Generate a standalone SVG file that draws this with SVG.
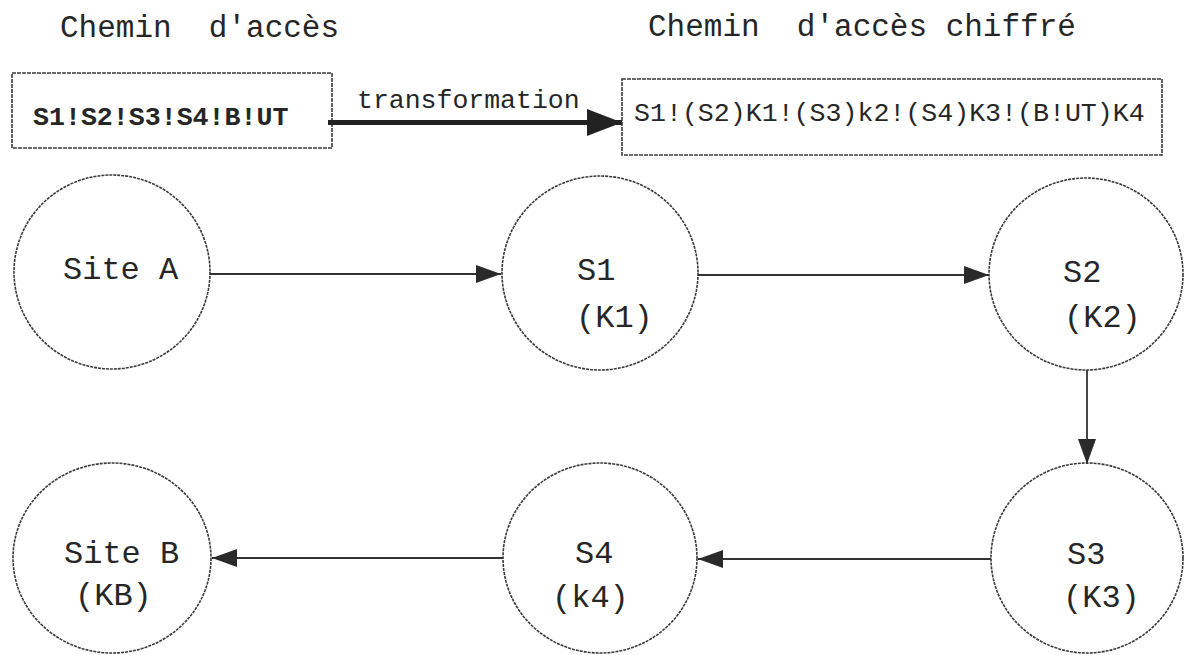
<svg xmlns="http://www.w3.org/2000/svg" width="1187" height="655" viewBox="0 0 1187 655">
<style>
.t{font-family:"Liberation Mono","DejaVu Sans Mono",monospace;fill:#262626}
.title{font-size:31px}
.box{font-size:26.6px}
.bold{font-weight:bold}
.lbl{font-size:32px}
.node{fill:none;stroke:#3a3a3a;stroke-width:1.6;stroke-dasharray:3 1}
.rect{fill:none;stroke:#3a3a3a;stroke-width:1.6;stroke-dasharray:4 1}
.conn{stroke:#333;stroke-width:1.8;fill:none}
</style>
<defs>
<marker id="ah" markerUnits="userSpaceOnUse" markerWidth="26" markerHeight="20" refX="25" refY="9" orient="auto">
<path d="M0,0 L25,9 L0,18 Z" fill="#2a2a2a"/>
</marker>
<marker id="ahBig" markerUnits="userSpaceOnUse" markerWidth="36" markerHeight="28" refX="35" refY="13.5" orient="auto">
<path d="M0,0 L35,13.5 L0,27 Z" fill="#222"/>
</marker>
</defs>
<rect width="1187" height="655" fill="#ffffff"/>
<text class="t title" x="60" y="37" xml:space="preserve">Chemin  d'accès</text>
<text class="t title" x="648" y="36" xml:space="preserve">Chemin  d'accès chiffré</text>
<g id="box-path">
<rect class="rect" x="12" y="73" width="320" height="75"/>
<text class="t box bold" x="33" y="125">S1!S2!S3!S4!B!UT</text>
</g>
<g id="box-cipher">
<rect class="rect" x="622" y="79" width="540" height="76"/>
<text class="t box" x="634" y="121">S1!(S2)K1!(S3)k2!(S4)K3!(B!UT)K4</text>
</g>
<g id="site-a">
<ellipse class="node" cx="112" cy="272" rx="98" ry="97"/>
<text class="t lbl" x="63" y="279">Site A</text>
</g>
<g id="s1">
<ellipse class="node" cx="600" cy="273" rx="98" ry="97"/>
<text class="t lbl" x="577" y="280">S1</text>
<text class="t lbl" x="576" y="327">(K1)</text>
</g>
<g id="s2">
<ellipse class="node" cx="1086" cy="274" rx="97" ry="96"/>
<text class="t lbl" x="1063" y="282">S2</text>
<text class="t lbl" x="1064" y="327">(K2)</text>
</g>
<g id="s3">
<ellipse class="node" cx="1087" cy="558" rx="96" ry="95"/>
<text class="t lbl" x="1067" y="564">S3</text>
<text class="t lbl" x="1063" y="607">(K3)</text>
</g>
<g id="s4">
<ellipse class="node" cx="600" cy="558" rx="97" ry="95"/>
<text class="t lbl" x="575" y="563">S4</text>
<text class="t lbl" x="552" y="607">(k4)</text>
</g>
<g id="site-b">
<ellipse class="node" cx="112" cy="558" rx="99" ry="95"/>
<text class="t lbl" x="64" y="563">Site B</text>
<text class="t lbl" x="75" y="605">(KB)</text>
</g>
<g id="connectors">
<line x1="328" y1="122.5" x2="622" y2="122.5" stroke="#222" stroke-width="5" marker-end="url(#ahBig)"/>
<text class="t" x="357" y="108" font-size="26.5px">transformation</text>
<line class="conn" x1="210" y1="274" x2="501" y2="274" marker-end="url(#ah)"/>
<line class="conn" x1="698" y1="275" x2="989" y2="275" marker-end="url(#ah)"/>
<line class="conn" x1="1087" y1="370" x2="1087" y2="464" marker-end="url(#ah)"/>
<line class="conn" x1="991" y1="559" x2="698" y2="559" marker-end="url(#ah)"/>
<line class="conn" x1="503" y1="558" x2="212" y2="558" marker-end="url(#ah)"/>
</g>
</svg>
